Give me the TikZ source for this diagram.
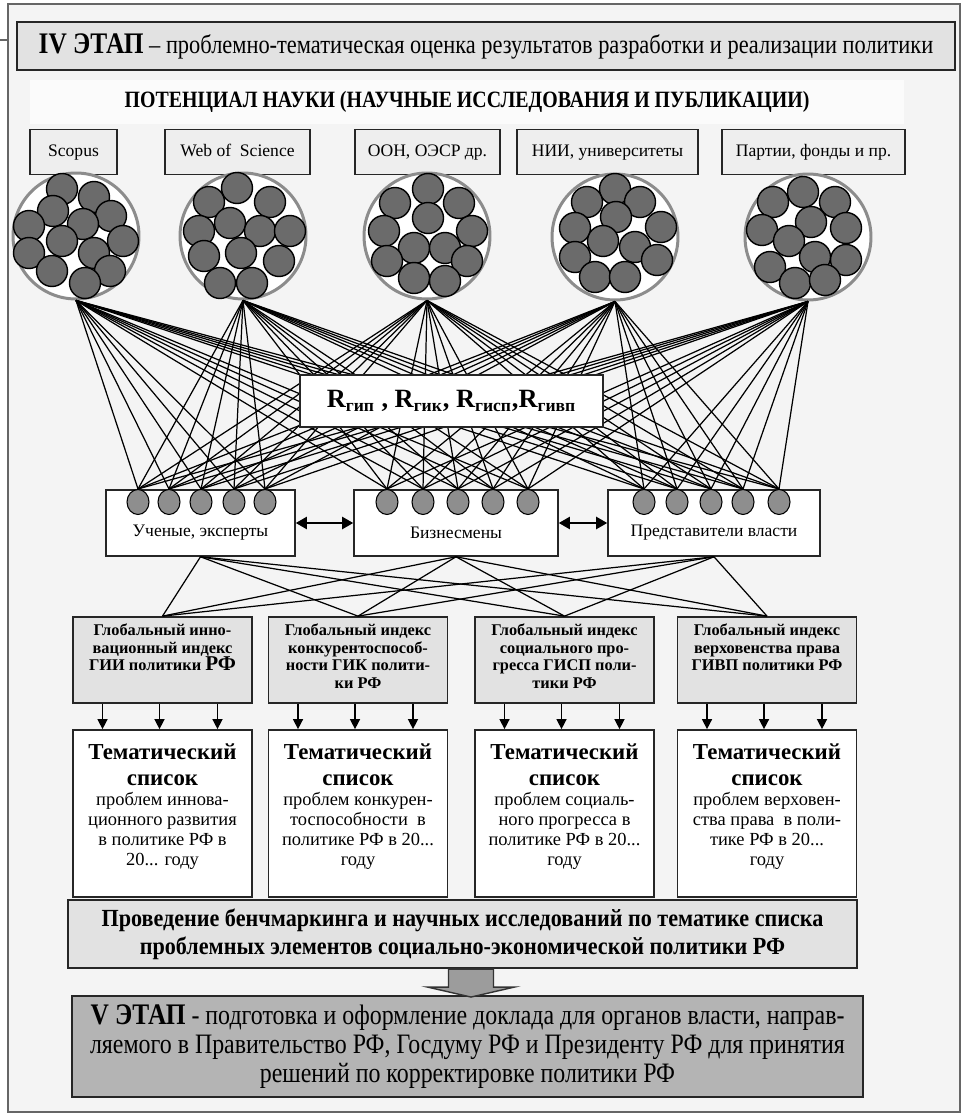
\documentclass[tikz,border=0pt]{standalone}
\usepackage{fontspec}
\setmainfont{Liberation Serif}
\newfontfamily\narrowfont{Liberation Serif}[FakeStretch=0.85]
\newfontfamily\benchfont{Liberation Serif}[FakeStretch=0.9]
\usetikzlibrary{positioning,shapes.geometric,arrows.meta}
\definecolor{paper}{HTML}{F4F4F4}
\definecolor{hdrgrey}{HTML}{E2E2E2}
\definecolor{srcgrey}{HTML}{EEEEEE}
\definecolor{ringgrey}{HTML}{8C8C8C}
\definecolor{dotgrey}{HTML}{6B6B6B}
\definecolor{midgrey}{HTML}{8E8E8E}
\definecolor{stagegrey}{HTML}{B4B4B4}
\definecolor{arrowgrey}{HTML}{9C9C9C}
\newcommand{\toptext}[3]{\parbox[c][#1][t]{#2}{\centering #3}}

\begin{document}
\begin{tikzpicture}[
    x=0.02cm, y=-0.02cm,
    hdrbox/.style={
      draw=black!85,
      line width=1.2pt,
      fill=hdrgrey,
      inner sep=0pt
    },
    srcbox/.style={
      draw=black!85,
      line width=0.9pt,
      fill=srcgrey,
      minimum height=0.9cm,
      inner sep=0pt,
      text height=1.6ex,
      text depth=0.4ex,
      font=\fontsize{10}{12}\selectfont
    },
    pool/.style={
      circle,
      draw=ringgrey,
      line width=1.7pt,
      fill=white,
      minimum size=2.52cm,
      inner sep=0pt
    },
    dot/.style={
      draw=black,
      line width=0.8pt,
      fill=dotgrey
    },
    expert/.style={
      ellipse,
      draw=black,
      line width=0.6pt,
      fill=midgrey,
      minimum width=0.44cm,
      minimum height=0.5cm,
      inner sep=0pt
    },
    grpbox/.style={
      draw=black!85,
      line width=0.9pt,
      fill=white,
      minimum height=1.32cm,
      inner sep=0pt
    },
    grptext/.style={
      yshift=-0.2cm,
      font=\fontsize{10}{12}\selectfont
    },
    idxbox/.style={
      draw=black!85,
      line width=1pt,
      fill=hdrgrey,
      minimum width=3.58cm,
      minimum height=1.72cm,
      inner sep=0.06cm,
      font=\fontsize{9.3}{10}\selectfont\bfseries
    },
    lstbox/.style={
      draw=black!85,
      line width=1pt,
      fill=white,
      minimum width=3.58cm,
      minimum height=3.34cm,
      inner sep=0.06cm
    },
    link/.style={
      black,
      line width=0.7pt
    },
    twoway/.style={
      line width=1.2pt,
      {Triangle[length=0.22cm,width=0.24cm]}-{Triangle[length=0.22cm,width=0.24cm]}
    },
    down/.style={
      line width=0.8pt,
      -{Triangle[length=0.2cm,width=0.2cm]}
    }
  ]
  \useasboundingbox (0,0) rectangle (963,1114);
  \draw[draw=black!60, fill=paper, line width=0.8pt] (8,4) rectangle (960,1112);
  \draw[black!60, line width=0.8pt] (0,40) -- (8,40);

  \node[hdrbox, minimum width=18.76cm, minimum height=0.96cm,
        font=\narrowfont\fontsize{15}{17}\selectfont] (header) at (486,46)
    {{\bfseries\fontsize{17}{19}\selectfont IV ЭТАП} – проблемно-тематическая оценка результатов разработки и реализации политики};
  \node[fill=white!60!paper, minimum width=17.5cm, minimum height=0.88cm,
        font=\narrowfont\bfseries\fontsize{13.3}{16}\selectfont] (title) at (467,102)
    {ПОТЕНЦИАЛ НАУКИ (НАУЧНЫЕ ИССЛЕДОВАНИЯ И ПУБЛИКАЦИИ)};

  \node[srcbox, minimum width=1.74cm] (src1) at (73.5,152) {Scopus};
  \node[srcbox, minimum width=2.9cm] (src2) at (237.5,152) {Web of\ \ Science};
  \node[srcbox, minimum width=2.9cm] (src3) at (427.5,152) {ООН, ОЭСР др.};
  \node[srcbox, minimum width=3.62cm] (src4) at (607.5,152) {НИИ, университеты};
  \node[srcbox, minimum width=3.66cm] (src5) at (813.5,152) {Партии, фонды и пр.};

  \foreach \x/\y [count=\n] in {76/236,243/236,427/236,615/237,808/237}
    \node[pool] (pool\n) at (\x,\y) {};
  \foreach \dx/\dy in {-14/-47,18/-39,-23/-25,35/-20,-47/-10,7/-12,-14/5,47/5,-47/17,18/17,-24/35,34/35,9/47}
    \draw[dot] ([shift={(\dx,\dy)}]pool1.center) circle[radius=15.5];
  \foreach \dx/\dy in {-6/-48,-34/-34,27/-34,-13/-13,-44/-5,17/-5,47/-5,-39/20,-2/17,36/25,-23/47,9/47}
    \draw[dot] ([shift={(\dx,\dy)}]pool2.center) circle[radius=15.5];
  \foreach \dx/\dy in {1/-47,-32/-33,32/-33,1/-18,-43/-5,45/-5,-13/12,18/12,-40/25,40/25,-13/42,18/45}
    \draw[dot] ([shift={(\dx,\dy)}]pool3.center) circle[radius=15.5];
  \foreach \dx/\dy in {0/-48,-28/-35,25/-35,1/-20,-40/-9,46/-10,-12/4,-40/20,20/10,42/23,-20/40,10/40}
    \draw[dot] ([shift={(\dx,\dy)}]pool4.center) circle[radius=15.5];
  \foreach \dx/\dy in {-5/-45,-35/-35,27/-35,3/-15,-46/-7,38/-9,-19/4,7/20,-38/30,38/23,-13/46,17/43}
    \draw[dot] ([shift={(\dx,\dy)}]pool5.center) circle[radius=15.5];

  \node[grpbox, minimum width=3.78cm,
        label={[grptext]center:Ученые, эксперты}] (grp1) at (200.5,523) {};
  \node[grpbox, minimum width=4.08cm,
        label={[grptext]center:Бизнесмены}] (grp2) at (456,523) {};
  \node[grpbox, minimum width=4.24cm,
        label={[grptext]center:Представители власти}] (grp3) at (714,523) {};
  \foreach \x [count=\n] in {138,169,201,234,265,387,423,458,493,528,644,677,711,743,779}
    \node[expert] (ex\n) at (\x,502) {};

  \foreach \p in {1,...,5}
    \foreach \e in {1,...,15}
      \draw[link] (pool\p.south) -- (ex\e.north);

  \node[draw=black!85, line width=1pt, fill=white, minimum width=6.06cm, minimum height=1.04cm,
        font=\bfseries\fontsize{15}{18}\selectfont] (rbox) at (451.5,401)
    {R\textsubscript{\fontsize{10}{11}\selectfont гип} , R\textsubscript{\fontsize{10}{11}\selectfont гик}, R\textsubscript{\fontsize{10}{11}\selectfont гисп},R\textsubscript{\fontsize{10}{11}\selectfont гивп}};

  \draw[twoway] (grp1.east) -- (grp2.west);
  \draw[twoway] (grp2.east) -- (grp3.west);

  \node[idxbox] (idx1) at (162.5,660)
    {\toptext{1.6cm}{3.45cm}{\rule{0pt}{9pt}Глобальный инно-\\вационный индекс\\ГИИ политики {\large РФ}}};
  \node[idxbox] (idx2) at (358,660)
    {\toptext{1.6cm}{3.45cm}{\rule{0pt}{9pt}Глобальный индекс\\конкурентоспособ-\\ности ГИК полити-\\ки РФ}};
  \node[idxbox] (idx3) at (564.5,660)
    {\toptext{1.6cm}{3.45cm}{\rule{0pt}{9pt}Глобальный индекс\\социального про-\\гресса ГИСП поли-\\тики РФ}};
  \node[idxbox] (idx4) at (767,660)
    {\toptext{1.6cm}{3.45cm}{\rule{0pt}{9pt}Глобальный индекс\\верховенства права\\ГИВП политики РФ}};

  \foreach \g in {1,2,3}
    \foreach \i in {1,...,4}
      \draw[link] (grp\g.south) -- (idx\i.north);

  \node[lstbox] (lst1) at (162.5,813.5)
    {\toptext{3.2cm}{3.45cm}{{\bfseries\fontsize{13}{14.7}\selectfont\rule{0pt}{15pt}Тематический\\список\par}
     \fontsize{10.5}{11.3}\selectfont проблем иннова-\\ционного развития\\в политике РФ в\\20... году}};
  \node[lstbox] (lst2) at (358,813.5)
    {\toptext{3.2cm}{3.45cm}{{\bfseries\fontsize{13}{14.7}\selectfont\rule{0pt}{15pt}Тематический\\список\par}
     \fontsize{10.5}{11.3}\selectfont проблем конкурен-\\тоспособности\ \ в\\политике РФ в 20...\\году}};
  \node[lstbox] (lst3) at (564.5,813.5)
    {\toptext{3.2cm}{3.45cm}{{\bfseries\fontsize{13}{14.7}\selectfont\rule{0pt}{15pt}Тематический\\список\par}
     \fontsize{10.5}{11.3}\selectfont проблем социаль-\\ного прогресса в\\политике РФ в 20...\\году}};
  \node[lstbox] (lst4) at (767,813.5)
    {\toptext{3.2cm}{3.45cm}{{\bfseries\fontsize{13}{14.7}\selectfont\rule{0pt}{15pt}Тематический\\список\par}
     \fontsize{10.5}{11.3}\selectfont проблем верховен-\\ства права\ \ в поли-\\тике РФ в 20...\\году}};

  \foreach \i in {1,...,4}
    \foreach \s in {-1.2,-0.06,1.1}
      \draw[down] ([xshift=\s cm]idx\i.south) -- ([xshift=\s cm]lst\i.north);

  \node[draw=black!85, line width=1.2pt, fill=hdrgrey, minimum width=15.78cm, minimum height=1.36cm,
        align=center, font=\benchfont\bfseries\fontsize{14}{16}\selectfont] (bench) at (462.5,934)
    {Проведение бенчмаркинга и научных исследований по тематике списка\\
     проблемных элементов социально-экономической политики РФ};

  \node[draw=black!85, line width=1.2pt, fill=stagegrey, minimum width=15.82cm, minimum height=2.02cm,
        align=center, font=\narrowfont\fontsize{16}{16.5}\selectfont] (stage5) at (467.5,1046.5)
    {{\bfseries\fontsize{17}{16.5}\selectfont V ЭТАП} - подготовка и оформление доклада для органов власти, направ-\\
     ляемого в Правительство РФ, Госдуму РФ и Президенту РФ для принятия\\
     решений по корректировке политики РФ};

  \coordinate (flow) at ([xshift=0.17cm]bench.south);
  \draw[draw=black!80, fill=arrowgrey, line width=0.8pt]
    (flow) ++(-22.5,0) -- ++(0,18) -- ++(-21,0) -- ++(43.5,10) -- ++(43.5,-10)
    -- ++(-21,0) -- ++(0,-18) -- cycle;
\end{tikzpicture}
\end{document}
